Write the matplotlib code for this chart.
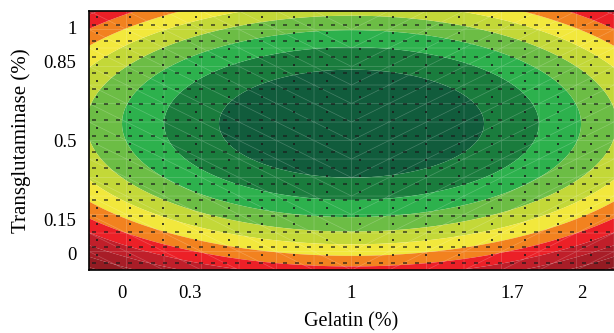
import numpy as np
import matplotlib
matplotlib.use("Agg")
import matplotlib.pyplot as plt
import matplotlib.tri as mtri

# Axis ticks
gelatin_ticks = [0, 0.3, 1, 1.7, 2]
gelatin_labels = ["0", "0.3", "1", "1.7", "2"]
tg_ticks = [0, 0.15, 0.5, 0.85, 1]
tg_labels = ["0", "0.15", "0.5", "0.85", "1"]

# Fitted response-surface
x_center = 1.0
y_center = 0.575
x_scale = 0.576
y_scale = 0.2396

# Contour band boundaries (distance units from optimum) and colours
band_levels = [0, 1, 2, 3, 4, 5, 6, 7, 8, 9, 10, 11, 100]
band_colors = ["#115c3c", "#1a7c3d", "#2db14d", "#6cbd45", "#c3d838",
               "#f2e83c", "#f2821f", "#ec2027", "#c01f2a", "#a81d27",
               "#931b22", "#7e181d"]

xlim = (-0.141, 2.141)
ylim = (-0.075, 1.075)

plt.rcParams['font.family'] = ['Liberation Serif', 'DejaVu Serif']

fig = plt.figure(figsize=(6.14, 3.33), dpi=100)
ax = fig.add_axes([0.145, 0.189, 0.855, 0.778])

gx = np.linspace(xlim[0], xlim[1], 400)
gy = np.linspace(ylim[0], ylim[1], 300)
X, Y = np.meshgrid(gx, gy)
U = ((X - x_center) / x_scale) ** 2 + ((Y - y_center) / y_scale) ** 2
ax.contourf(X, Y, U, levels=band_levels, colors=band_colors, antialiased=True)

# faint triangular mesh (rendering texture of the original)
mx = np.linspace(xlim[0], xlim[1], 15)
my = np.linspace(ylim[0], ylim[1], 15)
MX, MY = np.meshgrid(mx, my)
nx, ny = len(mx), len(my)
tris = []
for j in range(ny - 1):
    for i in range(nx - 1):
        a = j * nx + i
        b = a + 1
        c = a + nx
        d = c + 1
        if mx[i] < x_center:
            tris += [[a, b, c], [b, d, c]]
        else:
            tris += [[a, b, d], [a, d, c]]
tri = mtri.Triangulation(MX.ravel(), MY.ravel(), np.array(tris))
ax.triplot(tri, color="white", lw=0.5, alpha=0.22)

# dashed/dotted texture
dx = np.arange(xlim[0] + 0.02, xlim[1], 0.052)
dy = np.arange(ylim[0] + 0.03, ylim[1], 0.0705)
DX, DY = np.meshgrid(dx, dy)
ax.scatter(DX.ravel(), DY.ravel(), s=5, marker="_", color="#1a1a1a",
           linewidths=1.1, alpha=0.8)
dx2 = np.arange(xlim[0] + 0.035, xlim[1], 0.143)
dy2 = np.arange(ylim[0] + 0.065, ylim[1], 0.0705)
DX2, DY2 = np.meshgrid(dx2, dy2)
ax.scatter(DX2.ravel(), DY2.ravel(), s=2.2, marker="s", color="#1a1a1a",
           lw=0, alpha=0.8)

ax.set_xlim(*xlim)
ax.set_ylim(*ylim)
ax.set_xticks(gelatin_ticks)
ax.set_xticklabels(gelatin_labels)
ax.set_yticks(tg_ticks)
ax.set_yticklabels(tg_labels)
ax.tick_params(length=0, labelsize=13.5, pad=9)
ax.tick_params(axis='x', pad=11)
ax.set_xlabel("Gelatin (%)", fontsize=14.5, labelpad=7)
ax.set_ylabel("Transglutaminase (%)", fontsize=15, labelpad=9)
for s in ["left", "bottom", "top"]:
    ax.spines[s].set_linewidth(1.2)
ax.spines["right"].set_visible(False)

fig.savefig("out.png", dpi=100)
